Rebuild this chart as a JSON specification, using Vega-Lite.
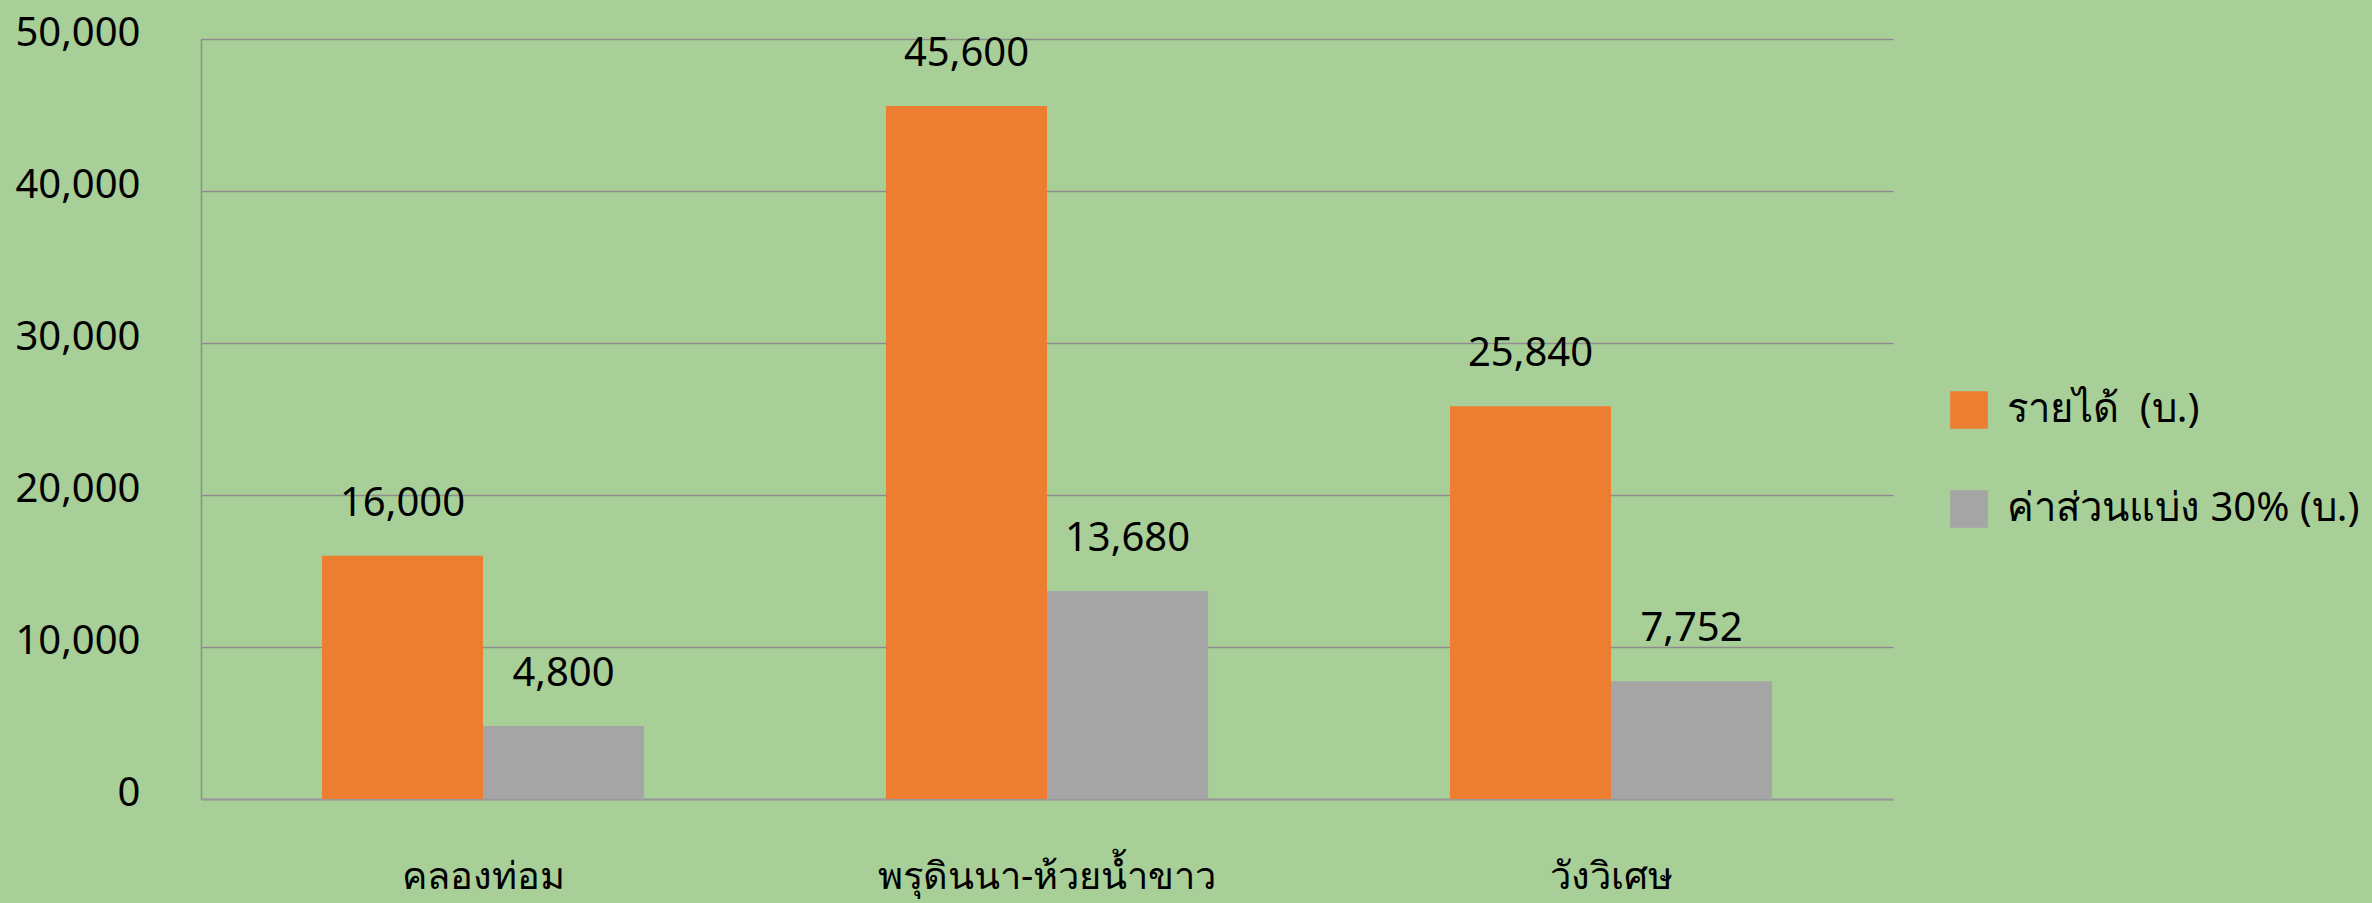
{
  "$schema": "https://vega.github.io/schema/vega-lite/v6.json",
  "width": 1692,
  "height": 760,
  "autosize": {"type": "none"},
  "padding": {"left": 201, "top": 39, "right": 479, "bottom": 104},
  "background": "#a8cf97",
  "data": {
    "values": [
      {"area": "คลองท่อม", "series": "รายได้\u00a0 (บ.)", "value": 16000},
      {"area": "คลองท่อม", "series": "ค่าส่วนแบ่ง 30% (บ.)", "value": 4800},
      {"area": "พรุดินนา-ห้วยน้ำขาว", "series": "รายได้\u00a0 (บ.)", "value": 45600},
      {"area": "พรุดินนา-ห้วยน้ำขาว", "series": "ค่าส่วนแบ่ง 30% (บ.)", "value": 13680},
      {"area": "วังวิเศษ", "series": "รายได้\u00a0 (บ.)", "value": 25840},
      {"area": "วังวิเศษ", "series": "ค่าส่วนแบ่ง 30% (บ.)", "value": 7752}
    ]
  },
  "encoding": {
    "x": {
      "field": "area", "type": "nominal", "sort": null,
      "scale": {"paddingInner": 0.429, "paddingOuter": 0.2145},
      "axis": {
        "title": null, "labelAngle": 0, "ticks": false, "domain": true,
        "domainColor": "#999999", "domainWidth": 2, "labelPadding": 89,
        "labelBaseline": "alphabetic", "labelFontSize": 38, "labelFont": "Noto Sans",
        "labelColor": "#000000", "grid": false, "labelLimit": 0
      }
    },
    "y": {
      "field": "value", "type": "quantitative",
      "scale": {"domain": [0, 50000], "nice": false},
      "axis": {
        "title": null, "values": [0, 10000, 20000, 30000, 40000, 50000], "format": ",.0f",
        "ticks": false, "grid": true, "gridColor": "#8c8c8c", "gridWidth": 1.5,
        "domain": true, "domainColor": "#8c8c8c", "domainWidth": 1.5,
        "labelPadding": 61, "labelOffset": -6, "labelFontSize": 40, "labelFont": "Noto Sans",
        "labelColor": "#000000"
      }
    },
    "xOffset": {
      "field": "series", "type": "nominal",
      "sort": ["รายได้\u00a0 (บ.)", "ค่าส่วนแบ่ง 30% (บ.)"],
      "scale": {"paddingInner": 0, "paddingOuter": 0}
    }
  },
  "layer": [
    {
      "mark": {"type": "bar"},
      "encoding": {
        "color": {
          "field": "series", "type": "nominal",
          "scale": {"domain": ["รายได้\u00a0 (บ.)", "ค่าส่วนแบ่ง 30% (บ.)"], "range": ["#ED7D31", "#A5A5A5"]},
          "legend": {
            "title": null, "orient": "none", "legendX": 1748, "legendY": 351,
            "symbolType": "square", "symbolSize": 1420, "symbolStrokeWidth": 0,
            "labelFontSize": 40, "labelFont": "Noto Sans", "labelColor": "#000000",
            "labelOffset": 18, "rowPadding": 59, "labelLimit": 0, "padding": 0
          }
        }
      }
    },
    {
      "mark": {"type": "text", "dy": -40, "baseline": "alphabetic", "fontSize": 40, "font": "Noto Sans", "color": "#000000"},
      "encoding": {"text": {"field": "value", "type": "quantitative", "format": ",.0f"}}
    }
  ],
  "config": {
    "view": {"stroke": null, "fill": null}
  }
}
